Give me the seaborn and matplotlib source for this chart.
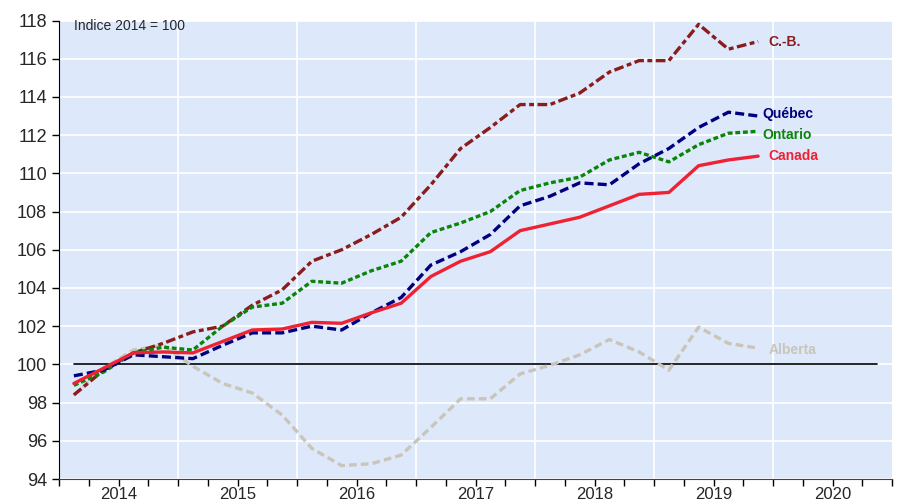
import numpy as np
import pandas as pd
import matplotlib
matplotlib.use("Agg")
import matplotlib.pyplot as plt
import seaborn as sns

# quarterly index, 2014Q1 .. 2019Q4 (index 2014 = 100)
quarters = list(range(24))
years = ["2014", "2015", "2016", "2017", "2018", "2019", "2020"]
yticks = list(range(94, 119, 2))

cb = [98.4, 99.7, 100.6, 101.1, 101.7, 102.0, 103.1, 103.9, 105.4, 106.0, 106.8, 107.7,
      109.4, 111.3, 112.4, 113.6, 113.6, 114.2, 115.3, 115.9, 115.9, 117.8, 116.5, 116.9]
quebec = [99.4, 99.7, 100.5, 100.4, 100.3, 101.0, 101.65, 101.65, 102.0, 101.8, 102.7, 103.5,
          105.2, 105.9, 106.8, 108.3, 108.8, 109.5, 109.4, 110.5, 111.3, 112.4, 113.2, 113.0]
ontario = [98.9, 99.6, 100.6, 100.9, 100.75, 102.0, 103.0, 103.2, 104.35, 104.25, 104.9, 105.4,
           106.9, 107.4, 108.0, 109.1, 109.5, 109.8, 110.7, 111.1, 110.6, 111.5, 112.1, 112.2]
canada = [99.0, 99.8, 100.6, 100.65, 100.6, 101.2, 101.8, 101.85, 102.2, 102.15, 102.7, 103.2,
          104.6, 105.4, 105.9, 107.0, 107.35, 107.7, 108.3, 108.9, 109.0, 110.4, 110.7, 110.9]
alberta = [98.4, 99.8, 100.75, 101.0, 99.9, 99.0, 98.5, 97.35, 95.6, 94.7, 94.8, 95.25,
           96.7, 98.2, 98.2, 99.5, 99.95, 100.5, 101.3, 100.65, 99.7, 101.95, 101.1, 100.85]

series = {"Alberta": alberta, "C.-B.": cb, "Ontario": ontario, "Québec": quebec, "Canada": canada}
colors = {"Alberta": "#C9C5B9", "C.-B.": "#8B1C1C", "Ontario": "#0A850A",
          "Québec": "#00007F", "Canada": "#EE2233"}
dashes = {"Alberta": (5.5, 3), "C.-B.": (7, 2.5, 3.5, 2.5), "Ontario": (3.5, 2),
          "Québec": (6.5, 3), "Canada": ""}

df = pd.concat([pd.DataFrame({"q": quarters, "val": v, "serie": k}) for k, v in series.items()])

sns.set_style("white", {"axes.facecolor": "#DDE9FB"})
plt.rcParams["font.family"] = ["Liberation Sans", "DejaVu Sans"]
plt.rcParams["lines.scale_dashes"] = False

fig = plt.figure(figsize=(8.97, 5.04), dpi=100)
ax = fig.add_axes([59 / 897, 1 - 479 / 504, (892 - 59) / 897, (479 - 20.5) / 504])

# grid
for yv in yticks:
    ax.axhline(yv, color="white", lw=1.2, zorder=0)
for i in range(1, 7):
    ax.axvline(4 * i - 0.5, color="white", lw=1.2, zorder=0)

ax.plot([0, 27], [100, 100], color="black", lw=1.2, zorder=1)

sns.lineplot(data=df, x="q", y="val", hue="serie", style="serie", palette=colors,
             dashes=dashes, linewidth=2.4, legend=False, ax=ax, zorder=3)

# end labels
lab = [("C.-B.", 23.35, 116.9), ("Québec", 23.15, 113.1), ("Ontario", 23.15, 112.0),
       ("Canada", 23.35, 110.9), ("Alberta", 23.35, 100.75)]
for name, xx, yy in lab:
    ax.text(xx, yy, name, color=colors[name], fontsize=10, fontweight="bold",
            va="center", ha="left")

ax.text(0.02, 117.7, "Indice 2014 = 100", fontsize=10, va="center", ha="left")

ax.set_xlim(-0.5, 27.5)
ax.set_ylim(94, 118)
ax.set_yticks(yticks)
ax.set_yticklabels([str(t) for t in yticks], fontsize=13)
# year labels on major ticks (mid-year), quarter boundaries as minor ticks
ax.set_xticks([4 * i + 1.5 for i in range(7)])
ax.set_xticklabels(years, fontsize=12)
ax.set_xticks([q - 0.5 for q in range(29)], minor=True)
ax.tick_params(axis="both", which="both", direction="out", length=5, width=1,
               color="black", left=True, bottom=True)
ax.tick_params(axis="x", which="major", pad=1)
ax.set_xlabel("")
ax.set_ylabel("")

for s in ["top", "right"]:
    ax.spines[s].set_visible(False)
ax.spines["left"].set_color("black")
ax.spines["bottom"].set_color("#444444")

fig.savefig("out.png", dpi=100)
